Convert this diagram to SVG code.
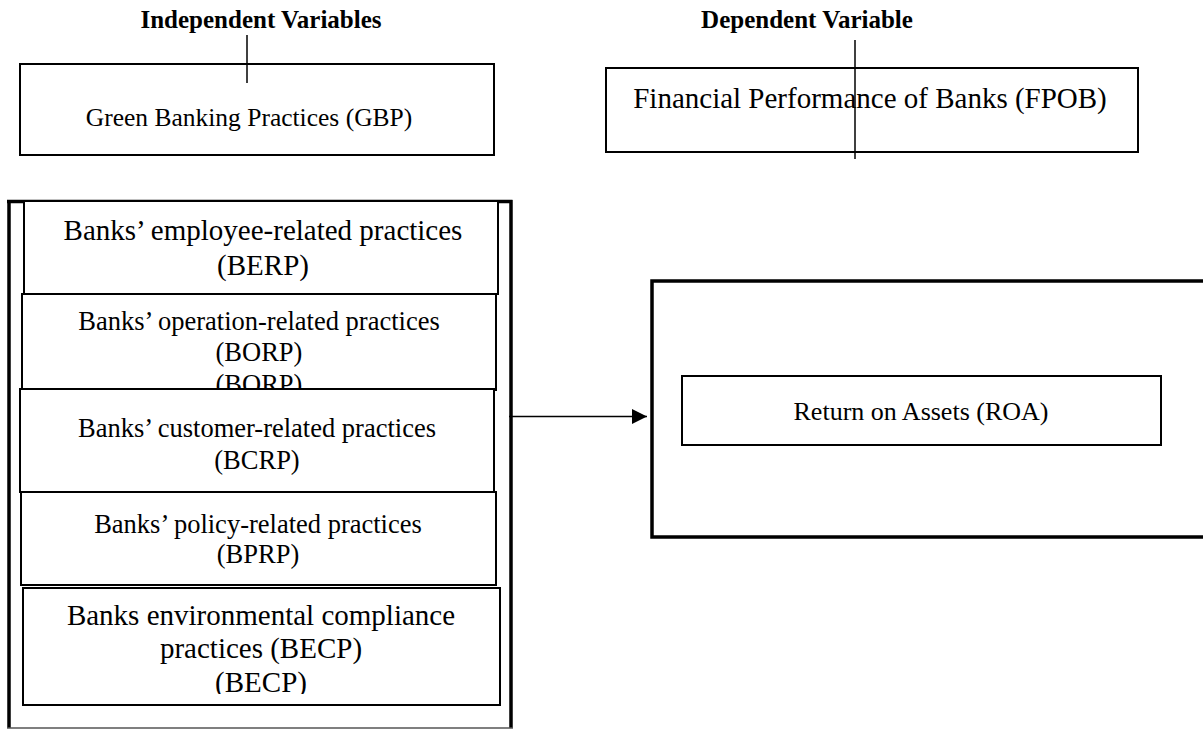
<svg xmlns="http://www.w3.org/2000/svg" width="1203" height="729" viewBox="0 0 1203 729">
  <defs>
    <style>
      text { font-family: "Liberation Serif", "Times New Roman", serif; fill: #000; text-anchor: middle; }
      .hdr { font-weight: bold; font-size: 25px; }
      .box { fill: #fff; stroke: #000; stroke-width: 2; }
      .frame { fill: none; stroke: #000; stroke-width: 3.5; }
      .conn { stroke: #000; stroke-width: 1.5; fill: none; }
    </style>
    <marker id="arrow" markerUnits="userSpaceOnUse" markerWidth="16" markerHeight="15" refX="15" refY="7.5" orient="auto">
      <path d="M0,0 L15,7.5 L0,15 z" fill="#000"/>
    </marker>
    <clipPath id="clipBorp"><rect x="0" y="294" width="520" height="95"/></clipPath>
    <clipPath id="clipBecp"><rect x="0" y="588" width="520" height="106"/></clipPath>
  </defs>
  <rect width="1203" height="729" fill="#fff"/>

  <g id="header-independent">
    <text class="hdr" x="261" y="28">Independent Variables</text>
  </g>
  <g id="header-dependent">
    <text class="hdr" x="807" y="28">Dependent Variable</text>
  </g>

  <g id="gbp">
    <rect class="box" x="20" y="64" width="474" height="91" stroke-width="2.5"/>
    <text x="249" y="126" font-size="25.5">Green Banking Practices (GBP)</text>
  </g>

  <g id="fpob">
    <rect class="box" x="606" y="68" width="532" height="84" stroke-width="2.5"/>
    <text x="870" y="108" font-size="29">Financial Performance of Banks (FPOB)</text>
  </g>

  <g id="gbp-container">
    <path class="frame" d="M7,201.5 H512.5 M9,200 V728 M511,200 V728"/>
    <line x1="7" y1="728" x2="513" y2="728" stroke="#555" stroke-width="1.5"/>
  </g>

  <g id="berp">
    <rect class="box" x="24" y="201" width="474" height="93"/>
    <text x="263" y="240" font-size="29">Banks’ employee-related practices</text>
    <text x="263" y="275" font-size="29">(BERP)</text>
  </g>

  <g id="borp">
    <rect class="box" x="22" y="294" width="474" height="96"/>
    <g clip-path="url(#clipBorp)">
      <text x="259" y="330" font-size="26.5">Banks’ operation-related practices</text>
      <text x="259" y="361" font-size="26.5">(BORP)</text>
      <text x="259" y="393" font-size="26.5">(BORP)</text>
    </g>
  </g>

  <g id="bcrp">
    <rect class="box" x="20" y="389" width="474" height="103"/>
    <text x="257" y="437" font-size="26.5">Banks’ customer-related practices</text>
    <text x="257" y="469" font-size="26.5">(BCRP)</text>
  </g>

  <g id="bprp">
    <rect class="box" x="21" y="492" width="475" height="93"/>
    <text x="258" y="533" font-size="26.5">Banks’ policy-related practices</text>
    <text x="258" y="563" font-size="26.5">(BPRP)</text>
  </g>

  <g id="becp">
    <rect class="box" x="23" y="588" width="477" height="117"/>
    <g clip-path="url(#clipBecp)">
      <text x="261" y="625" font-size="29">Banks environmental compliance</text>
      <text x="261" y="658" font-size="29">practices (BECP)</text>
      <text x="261" y="692" font-size="29">(BECP)</text>
    </g>
  </g>

  <g id="fpob-container">
    <rect class="frame" x="652" y="281" width="600" height="256"/>
  </g>

  <g id="roa">
    <rect class="box" x="682" y="376" width="479" height="69"/>
    <text x="921" y="420" font-size="26">Return on Assets (ROA)</text>
  </g>

  <g id="connectors">
    <line class="conn" x1="247" y1="35" x2="247" y2="83"/>
    <line class="conn" x1="855" y1="40" x2="855" y2="159"/>
    <line class="conn" x1="509" y1="416.5" x2="647" y2="416.5" stroke-width="2" marker-end="url(#arrow)"/>
  </g>
</svg>
